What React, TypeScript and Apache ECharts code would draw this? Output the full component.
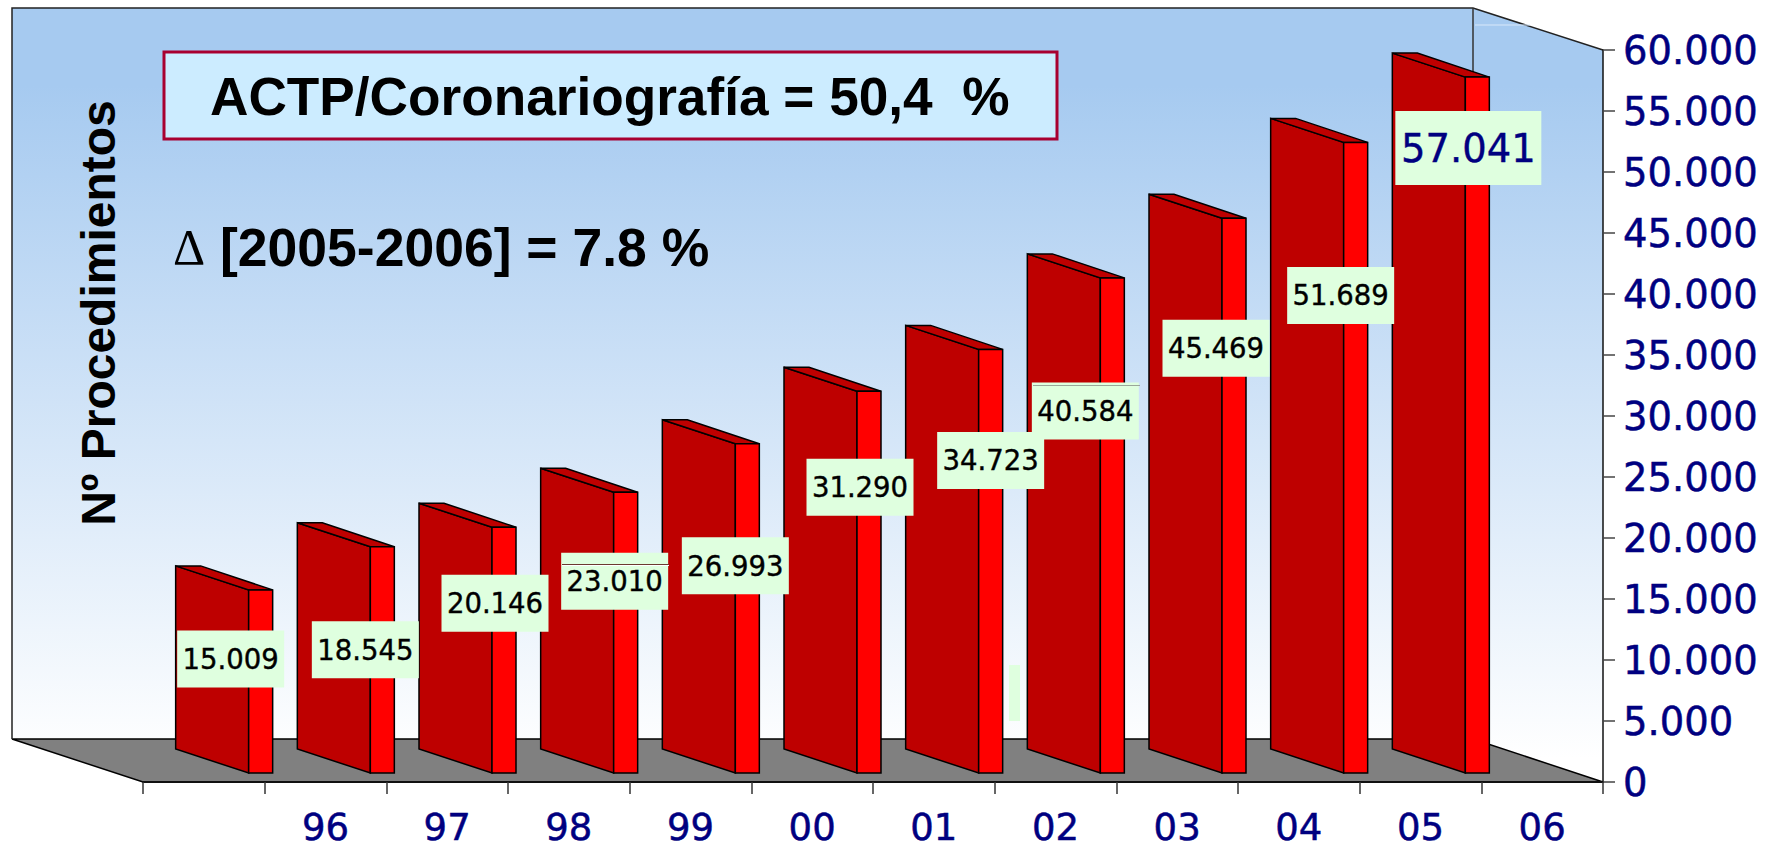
import React, { useEffect, useRef } from "react";
import * as echarts from "echarts";

const categories = ["", "96", "97", "98", "99", "00", "01", "02", "03", "04", "05", "06"];
const procedures = [15009, 18545, 20146, 23010, 26993, 31290, 34723, 40584, 45469, 51689, 57041];
// Label box centre, relative to the end of the bar's band and the top of its front face
const labelDx = [-34, -21, -13, -15, -16, -13, -4, -31, -22, -19, -13];
const labelDy = [69, 103, 76, 89, 122, 96, 111, 133, 130, 153, 71];

const fmt = (v: number) => String(v).replace(/\B(?=(\d{3})+$)/g, ".");

const LEFT = 143, RIGHT = 1603, TOP = 50, BOTTOM = 782;
const BASE_LIFT = 9;

export default function App() {
  const ref = useRef<HTMLDivElement>(null);
  useEffect(() => {
    document.body.style.margin = "0";
    const chart = echarts.init(ref.current!, undefined, { renderer: "svg" });
    const wallFill = new echarts.graphic.LinearGradient(0, 0, 0, 1, [
      { offset: 0, color: "#A6CAF0" },
      { offset: 0.1, color: "#A6CAF0" },
      { offset: 0.97, color: "#FFFFFF" },
      { offset: 1, color: "#FFFFFF" },
    ]);
    const bars = (_p: any, api: any) => {
      const i = api.value(0);
      const v = api.value(1);
      const [cx, yv] = api.coord([i, v]);
      const w = api.size([1, 0])[0];
      const end = cx + w / 2;
      const yTop = yv - BASE_LIFT;
      const yBot = api.coord([i, 0])[1] - BASE_LIFT;
      const dl = end - 89, ll = end - 16, r = end + 8;
      const stroke = { stroke: "#000", lineWidth: 1.5 };
      return {
        type: "group",
        children: [
          { type: "polygon", shape: { points: [[dl, yTop - 24], [ll, yTop], [ll, yBot], [dl, yBot - 24]] }, style: { fill: "#BE0000", ...stroke } },
          { type: "polygon", shape: { points: [[dl, yTop - 24], [dl + 25, yTop - 24], [r, yTop], [ll, yTop]] }, style: { fill: "#BE0000", ...stroke } },
          { type: "rect", shape: { x: ll, y: yTop, width: r - ll, height: yBot - yTop }, style: { fill: "#FF0000", ...stroke } },
        ],
      };
    };
    const labels = (_p: any, api: any) => {
      const i = api.value(0);
      const v = api.value(1);
      const [cx, yv] = api.coord([i, v]);
      const end = cx + api.size([1, 0])[0] / 2;
      const last = i === procedures.length - 1;
      const bw = last ? 146 : 107, bh = last ? 74 : 57;
      const x = end + labelDx[i], y = yv - BASE_LIFT + labelDy[i];
      const color = last ? "#000080" : "#000000";
      return {
        type: "group",
        children: [
          { type: "rect", shape: { x: x - bw / 2, y: y - bh / 2, width: bw, height: bh }, style: { fill: "#DFFFDF" } },
          {
            type: "text",
            x, y,
            style: {
              text: fmt(v), x: 0, y: 0, align: "center", verticalAlign: "middle",
              fill: color, stroke: color, lineWidth: 0.4,
              font: `${last ? 38.5 : 27.5}px "DejaVu Sans"`,
            },
          },
        ],
      };
    };
    chart.setOption({
      animation: false,
      backgroundColor: "#fff",
      grid: { left: LEFT, right: 1767 - RIGHT, top: TOP, bottom: 848 - BOTTOM },
      xAxis: {
        type: "category",
        data: categories,
        boundaryGap: true,
        axisLine: { lineStyle: { color: "#111", width: 2 } },
        axisTick: { show: true, interval: 0, length: 12, alignWithLabel: false, lineStyle: { color: "#333", width: 1.5 } },
        axisLabel: { interval: 0, color: "#000080", fontFamily: "DejaVu Sans", fontSize: 37, lineHeight: 32, margin: 29, textBorderColor: "#000080", textBorderWidth: 0.5 },
      },
      yAxis: {
        type: "value",
        position: "right",
        min: 0,
        max: 60000,
        interval: 5000,
        splitLine: { show: false },
        axisLine: { show: true, lineStyle: { color: "#111", width: 1.5 } },
        axisTick: { show: true, length: 12, lineStyle: { color: "#444", width: 1.5 } },
        axisLabel: { color: "#000080", fontFamily: "DejaVu Sans", fontSize: 38.5, margin: 20, textBorderColor: "#000080", textBorderWidth: 0.5, formatter: (v: number) => fmt(v) },
      },
      graphic: [
        { type: "polygon", z: -10, shape: { points: [[12, 8], [1473, 8], [1603, 50], [1603, 782], [12, 739]] }, style: { fill: wallFill } },
        { type: "polygon", z: -9, shape: { points: [[12, 739], [1473, 739], [1603, 782], [143, 782]] }, style: { fill: "#808080", stroke: "#000", lineWidth: 1.5 } },
        { type: "polyline", z: -9, shape: { points: [[12, 739], [12, 8], [1473, 8], [1603, 50]] }, style: { fill: "none", stroke: "#222", lineWidth: 1.5 } },
        { type: "line", z: -9, shape: { x1: 1473, y1: 8, x2: 1473, y2: 739 }, style: { stroke: "#333", lineWidth: 1.5 } },
        { type: "line", z: -9, shape: { x1: 1475, y1: 25, x2: 1530, y2: 25 }, style: { stroke: "#D8E8FA", lineWidth: 1 } },
        { type: "rect", z: 20, shape: { x: 164, y: 52, width: 893, height: 87 }, style: { fill: "#CCECFF", stroke: "#A80030", lineWidth: 3 } },
        { type: "text", z: 21, x: 210, y: 96, style: { text: "ACTP/Coronariografía = 50,4  %", align: "left", verticalAlign: "middle", fill: "#000", font: 'bold 53.2px "Liberation Sans"' } },
        {
          type: "text", z: 21, x: 173, y: 247,
          style: {
            text: "{d|Δ} [2005-2006] = 7.8 %", align: "left", verticalAlign: "middle", fill: "#000", font: 'bold 53.5px "Liberation Sans"',
            rich: { d: { font: '50px "Liberation Serif"', fill: "#000" } },
          },
        },
        { type: "text", z: 21, x: 98, y: 313, rotation: Math.PI / 2, style: { text: "Nº Procedimientos", align: "center", verticalAlign: "middle", fill: "#000", font: 'bold 48px "Liberation Sans"' } },
        { type: "rect", z: 21, shape: { x: 1009, y: 665, width: 11, height: 56 }, style: { fill: "#DFFFDF" } },
        { type: "line", z: 21, shape: { x1: 562, y1: 564.5, x2: 669, y2: 564.5 }, style: { stroke: "#6B3A30", lineWidth: 1 } },
        { type: "line", z: 21, shape: { x1: 562, y1: 565.5, x2: 669, y2: 565.5 }, style: { stroke: "#FFFFFF", lineWidth: 1 } },
        { type: "line", z: 21, shape: { x1: 1033, y1: 385.5, x2: 1140, y2: 385.5 }, style: { stroke: "#9AA69A", lineWidth: 1 } },
      ],
      series: [
        { type: "custom", z: 3, coordinateSystem: "cartesian2d", renderItem: bars, data: procedures.map((v, i) => [i, v]), clip: false },
        { type: "custom", z: 5, coordinateSystem: "cartesian2d", renderItem: labels, data: procedures.map((v, i) => [i, v]), clip: false },
      ],
    });
    return () => chart.dispose();
  }, []);
  return <div ref={ref} style={{ width: 1767, height: 848 }} />;
}
